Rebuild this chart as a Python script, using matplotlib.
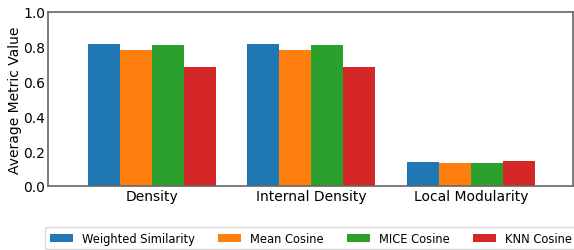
import numpy as np
import matplotlib.pyplot as plt

# Data
metrics = ['Density', 'Internal Density', 'Local Modularity']
methods = ['Weighted Similarity', 'Mean Cosine', 'MICE Cosine', 'KNN Cosine']
weighted_similarity = [0.816, 0.816, 0.138]
mean_cosine = [0.782, 0.782, 0.132]
mice_cosine = [0.810, 0.810, 0.132]
knn_cosine = [0.684, 0.684, 0.144]
colors = ['#1f77b4', '#ff7f0e', '#2ca02c', '#d62728']

series = [weighted_similarity, mean_cosine, mice_cosine, knn_cosine]

fig = plt.figure(figsize=(5.74, 2.51), dpi=100)
ax = fig.add_axes([48 / 574, 64 / 251, 525 / 574, 174 / 251])

x = np.arange(len(metrics))
width = 0.2
for i, (vals, name) in enumerate(zip(series, methods)):
    ax.bar(x + (i - 1.5) * width, vals, width, label=name, color=colors[i])

ax.set_xticks(x)
ax.set_xticklabels(metrics, fontsize=10)
ax.set_ylim(0, 1.0)
ax.set_xlim(-0.65, 2.64)
ax.set_yticks(np.arange(0, 1.01, 0.2))
ax.tick_params(axis='y', labelsize=10, length=0, pad=2)
ax.tick_params(axis='x', length=0, pad=2)
ax.set_ylabel('Average Metric Value', fontsize=10, labelpad=1)
for s in ax.spines.values():
    s.set_color('#666666')
    s.set_linewidth(1.2)

handles, labels = ax.get_legend_handles_labels()
fig.legend(handles, labels, loc='upper left', bbox_to_anchor=(45 / 574, 1 - 228 / 251),
           borderaxespad=0, ncol=4, fontsize=8.3, frameon=True, edgecolor='#cccccc')

fig.savefig('out.png', dpi=100)
